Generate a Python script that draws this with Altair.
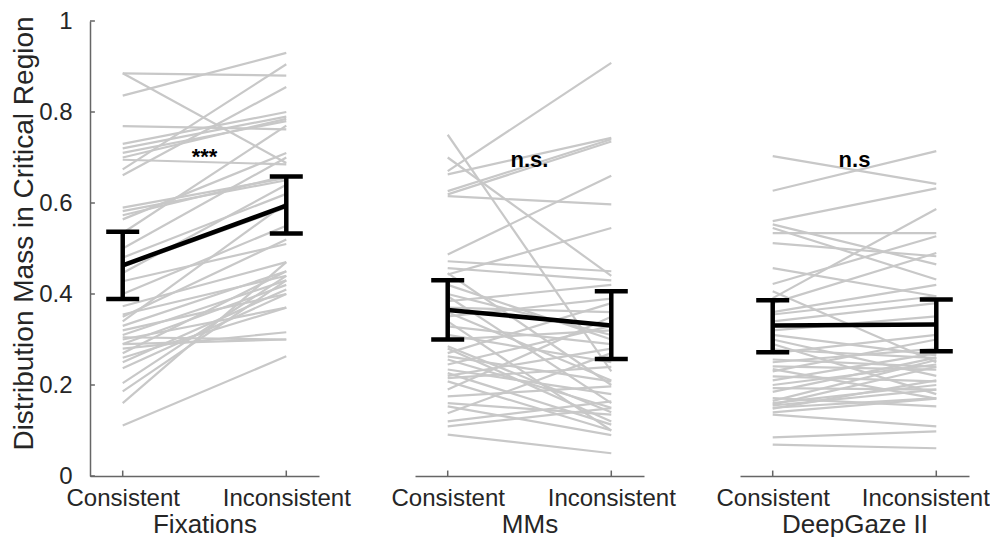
import altair as alt
import pandas as pd

conditions = ["Consistent", "Inconsistent"]
panel_titles = ["Fixations", "MMs", "DeepGaze II"]
annotations = ["***", "n.s.", "n.s"]
annotation_y = [0.686, 0.68, 0.68]
y_title = "Distribution Mass in Critical Region"
y_ticks = [0, 0.2, 0.4, 0.6, 0.8, 1.0]

# per-subject values (Consistent, Inconsistent)
fix_cons = [0.885, 0.885, 0.836, 0.769, 0.73, 0.72, 0.71, 0.70, 0.695, 0.674, 0.661,
            0.59, 0.582, 0.573, 0.564, 0.534, 0.50, 0.48, 0.46, 0.446, 0.428, 0.40,
            0.373, 0.355, 0.34, 0.33, 0.32, 0.31, 0.305, 0.30, 0.29, 0.28, 0.27,
            0.26, 0.25, 0.237, 0.204, 0.186, 0.16, 0.111, 0.29, 0.35]
fix_inc = [0.88, 0.688, 0.93, 0.762, 0.80, 0.79, 0.78, 0.785, 0.685, 0.905, 0.855,
           0.655, 0.65, 0.66, 0.71, 0.77, 0.70, 0.62, 0.59, 0.64, 0.51, 0.55,
           0.47, 0.44, 0.60, 0.45, 0.40, 0.43, 0.30, 0.37, 0.42, 0.316, 0.45,
           0.37, 0.41, 0.40, 0.44, 0.43, 0.47, 0.263, 0.30, 0.52]

mm_cons = [0.75, 0.70, 0.67, 0.663, 0.626, 0.619, 0.615, 0.487, 0.472, 0.457, 0.443,
           0.446, 0.42, 0.395, 0.384, 0.37, 0.351, 0.34, 0.329, 0.31, 0.30, 0.285,
           0.27, 0.263, 0.256, 0.245, 0.234, 0.226, 0.215, 0.208, 0.19, 0.175, 0.16,
           0.153, 0.138, 0.12, 0.109, 0.091, 0.40, 0.36, 0.28, 0.22]
mm_inc = [0.23, 0.44, 0.908, 0.743, 0.74, 0.735, 0.597, 0.66, 0.45, 0.43, 0.545,
          0.20, 0.30, 0.16, 0.42, 0.36, 0.39, 0.10, 0.29, 0.25, 0.32, 0.14,
          0.38, 0.208, 0.15, 0.33, 0.18, 0.113, 0.24, 0.10, 0.35, 0.197, 0.135,
          0.09, 0.27, 0.164, 0.149, 0.05, 0.31, 0.21, 0.12, 0.28]

dg_cons = [0.703, 0.627, 0.56, 0.553, 0.545, 0.534, 0.512, 0.457, 0.422, 0.391, 0.38,
           0.406, 0.355, 0.34, 0.32, 0.30, 0.278, 0.27, 0.256, 0.241, 0.235, 0.219,
           0.21, 0.193, 0.185, 0.171, 0.165, 0.157, 0.155, 0.150, 0.148, 0.140,
           0.135, 0.16, 0.085, 0.069, 0.29, 0.25, 0.31, 0.23, 0.36, 0.20]
dg_inc = [0.642, 0.714, 0.632, 0.465, 0.432, 0.534, 0.483, 0.395, 0.527, 0.587, 0.49,
          0.25, 0.395, 0.38, 0.351, 0.22, 0.259, 0.31, 0.24, 0.234, 0.17, 0.208,
          0.27, 0.19, 0.26, 0.153, 0.255, 0.24, 0.19, 0.171, 0.21, 0.17,
          0.109, 0.20, 0.098, 0.061, 0.18, 0.28, 0.265, 0.30, 0.42, 0.245]

# group means and error-bar limits (Consistent, Inconsistent)
fix_mean, fix_lo, fix_hi = [0.463, 0.594], [0.389, 0.533], [0.537, 0.658]
mm_mean, mm_lo, mm_hi = [0.365, 0.331], [0.300, 0.257], [0.430, 0.406]
dg_mean, dg_lo, dg_hi = [0.331, 0.333], [0.272, 0.274], [0.386, 0.388]

FONT = "Liberation Sans"
TXT = "#262626"
GRAY = "#c8c8c8"
AXC = "#666666"
xpos = [1, 2]
H = 455
W = 229


def make_panel(i, cons, inc, mean, lo, hi, show_y, last_label_shift=0):
    x_scale = alt.Scale(domain=[0.8, 2.2], nice=False, zero=False)
    y_scale = alt.Scale(domain=[0, 1], nice=False, zero=True)
    label_expr = f"datum.value == 1 ? '{conditions[0]}' : '{conditions[1]}'"
    axis_kw = dict(values=xpos, labelExpr=label_expr, ticks=False, grid=False,
                   title=panel_titles[i], labelFlush=False, labelOverlap=False,
                   labelPadding=10, titlePadding=1, titleFontSize=26)
    if last_label_shift:
        axis_kw["labelOffset"] = {"condition": {"test": "datum.value == 2",
                                                "value": last_label_shift},
                                  "value": 0}
    x_axis = alt.Axis(**axis_kw)
    if show_y:
        y_axis = alt.Axis(values=y_ticks, format="~g", ticks=False, grid=False,
                          title=y_title, labelPadding=18, titlePadding=0,
                          titleFontSize=28, titleY=212)
    else:
        y_axis = None
    X = alt.X("x:Q", scale=x_scale, axis=x_axis)

    def Y(field):
        return alt.Y(f"{field}:Q", scale=y_scale, axis=y_axis)

    rows = []
    for s, (c, v) in enumerate(zip(cons, inc)):
        rows.append({"subject": s, "x": xpos[0], "y": c})
        rows.append({"subject": s, "x": xpos[1], "y": v})
    lines = alt.Chart(pd.DataFrame(rows)).mark_line(
        color=GRAY, strokeWidth=2.2).encode(X, Y("y"), detail="subject:N")

    mdf = pd.DataFrame({"x": xpos, "y": mean, "lo": lo, "hi": hi})
    mean_line = alt.Chart(mdf).mark_line(color="black", strokeWidth=4.5).encode(X, Y("y"))
    bars = alt.Chart(mdf).mark_rule(color="black", strokeWidth=4.5).encode(
        X, Y("lo"), y2="hi:Q")
    caps_df = pd.DataFrame({"x": xpos + xpos, "y": lo + hi})
    caps = alt.Chart(caps_df).mark_tick(
        color="black", orient="horizontal", size=33, thickness=4.5,
        opacity=1).encode(X, Y("y"))

    xt = pd.DataFrame({"x": xpos, "y": [0, 0], "y2": [0.012, 0.012]})
    xticks = alt.Chart(xt).mark_rule(color=AXC, strokeWidth=1.5).encode(
        X, Y("y"), y2="y2:Q")

    ann = pd.DataFrame({"x": [1.5], "y": [annotation_y[i]], "t": [annotations[i]]})
    text = alt.Chart(ann).mark_text(
        font=FONT, fontSize=22, fontWeight="bold", color="black",
        baseline="alphabetic", align="center").encode(X, Y("y"), text="t:N")

    layers = [lines, mean_line, bars, caps, xticks, text]
    if show_y:
        yt = pd.DataFrame({"x": [0.8] * len(y_ticks), "x2": [0.83] * len(y_ticks), "y": y_ticks})
        yticks = alt.Chart(yt).mark_rule(color=AXC, strokeWidth=1.5).encode(
            X, Y("y"), x2="x2:Q")
        layers.append(yticks)
    return alt.layer(*layers).properties(width=W, height=H)


p1 = make_panel(0, fix_cons, fix_inc, fix_mean, fix_lo, fix_hi, True)
p2 = make_panel(1, mm_cons, mm_inc, mm_mean, mm_lo, mm_hi, False)
p3 = make_panel(2, dg_cons, dg_inc, dg_mean, dg_lo, dg_hi, False, last_label_shift=-11)

chart = alt.hconcat(p1, p2, p3, spacing=96, bounds="flush").configure_axis(
    labelFont=FONT, titleFont=FONT, labelFontSize=24, titleFontSize=24,
    labelColor=TXT, titleColor=TXT, titleFontWeight="normal",
    domainColor=AXC, domainWidth=1.5
).configure_view(stroke=None).properties(
    padding={"left": 2, "top": 1, "right": 0, "bottom": 0}, background="white")

chart.save("out.html", embed_options={"renderer": "svg", "actions": False})
